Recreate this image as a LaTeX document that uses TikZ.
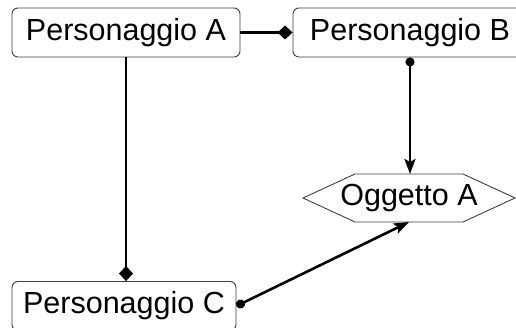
\documentclass[tikz,border=0pt]{standalone}
\usepackage{fontspec}
\setmainfont{Liberation Sans}
\usetikzlibrary{arrows.meta,calc}

\begin{document}
\begin{tikzpicture}[x=1pt,y=-1pt,
	persona/.style={draw=gray!50!black, line width=0.9pt, rounded corners=6pt,
		minimum height=49pt, inner sep=0pt, font=\fontsize{30.5}{32}\selectfont},
	legame/.style={line width=2.6pt, black}]
\fill[white] (0,0) rectangle (516,328);
\useasboundingbox (0,0) rectangle (516,328);
\clip (0,0) rectangle (516,328);
\node[persona, minimum width=228pt] (pa) at (126,32.5) {Personaggio A};
\node[persona, minimum width=234pt] (pb) at (410,32.5) {Personaggio B};
\node[persona, minimum width=224pt] (pc) at (124,306) {Personaggio C};
\node[inner sep=0pt, font=\fontsize{30.5}{32}\selectfont] (ogg) at (409,198) {Oggetto A};
\draw[gray!50!black, line width=0.9pt] ($(ogg)+(-54,-24)$) -- ($(ogg)+(-106,0)$)
	-- ($(ogg)+(-54,24)$) -- ($(ogg)+(54,24)$) -- ($(ogg)+(106,0)$)
	-- ($(ogg)+(54,-24)$) -- cycle;
\coordinate (ogg top) at ($(ogg)+(1,-24)$);
\coordinate (ogg bot) at ($(ogg)+(0,24)$);
\draw[legame, -{Diamond[length=15pt,width=14pt]}] (pa.east) -- (pb.west);
\draw[legame, -{Diamond[length=15pt,width=14pt]}] (pa.south) -- (pa.south |- pc.north);
\draw[legame, {Circle[length=9pt]}-{Stealth[length=15pt,width=11pt,inset=3pt]}] (pb.south) -- (ogg top);
\draw[legame, {Circle[length=9pt]}-{Stealth[length=15pt,width=11pt,inset=3pt]}] (pc.east) -- (ogg bot);
\end{tikzpicture}
\end{document}
